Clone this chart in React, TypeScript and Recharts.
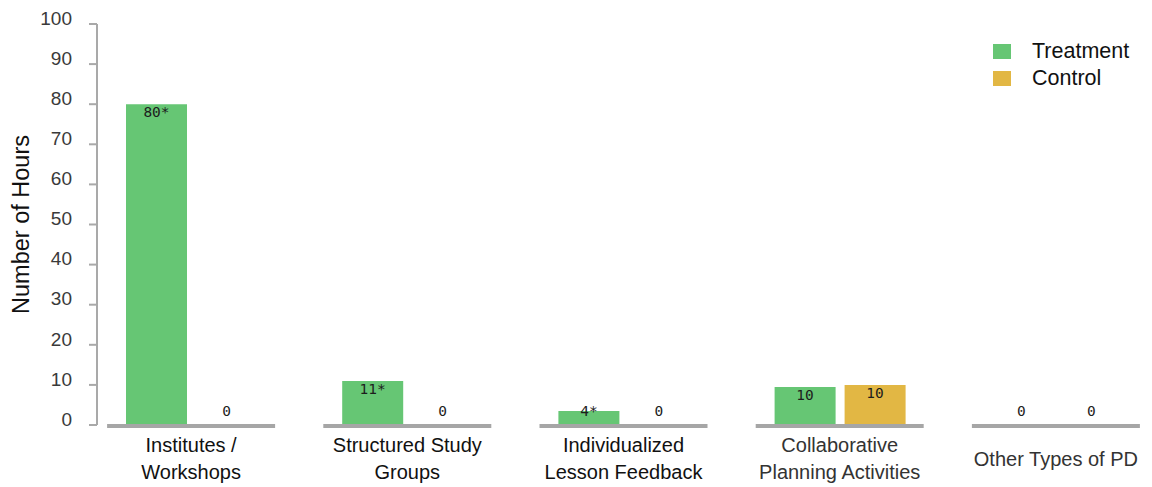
import React from 'react'
import { BarChart, Bar, XAxis, YAxis, LabelList } from 'recharts'

const categories = [
	'Institutes /\nWorkshops',
	'Structured Study\nGroups',
	'Individualized\nLesson Feedback',
	'Collaborative\nPlanning Activities',
	'Other Types of PD',
]
const treatment = [80, 11, 3.5, 9.5, 0]
const control = [0, 0, 0, 10, 0]
const treatmentLabels = ['80*', '11*', '4*', '10', '0']
const controlLabels = ['0', '0', '0', '10', '0']
const yTicks = [0, 10, 20, 30, 40, 50, 60, 70, 80, 90, 100]

const series = [
	{ key: 'treatment', name: 'Treatment', color: '#66c674' },
	{ key: 'control', name: 'Control', color: '#e2b744' },
]

const data = categories.map((name, i) => ({
	name,
	treatment: treatment[i],
	control: control[i],
	treatmentLabel: treatmentLabels[i],
	controlLabel: controlLabels[i],
}))

const FONT = '"Liberation Sans", Arial, sans-serif'

const CategoryTick = (props: any) => {
	const { x, y, payload, index } = props
	const lines = String(payload.value).split('\n')
	const light = index >= 3
	return (
		<g>
			<line x1={x - 84} x2={x + 84} y1={y + 1} y2={y + 1} stroke={'#a6a6a6'} strokeWidth={4} />
			{lines.map((l, i) => (
				<text
					key={i}
					x={x}
					y={lines.length === 1 ? y + 41 : y + 27 + i * 27}
					textAnchor={'middle'}
					fontSize={20}
					fontFamily={FONT}
					fill={light ? '#333' : '#111'}
				>
					{l}
				</text>
			))}
		</g>
	)
}

const ValueLabel = (props: any) => {
	const { x, y, width, height, value } = props
	const ty = Math.min(y + 13, y + height - 9)
	return (
		<text
			x={x + width / 2}
			y={ty}
			textAnchor={'middle'}
			fontSize={14.5}
			fontFamily={'"DejaVu Sans Mono", monospace'}
			fill={'#1d1d1d'}
		>
			{value}
		</text>
	)
}

export default function App() {
	return (
		<div style={{ position: 'absolute', left: 0, top: 0, width: 1152, height: 487, background: '#fff', fontFamily: FONT }}>
			<BarChart
				width={1152}
				height={487}
				data={data}
				margin={{ top: 24, right: 2, bottom: 0, left: 0 }}
				barSize={61}
				barGap={9}
			>
				<XAxis
					dataKey={'name'}
					height={62}
					axisLine={false}
					tickLine={false}
					tickSize={0}
					tickMargin={0}
					interval={0}
					padding={{ left: -14, right: -14 }}
					tick={<CategoryTick />}
				/>
				<YAxis
					width={97}
					domain={[0, 100]}
					ticks={yTicks}
					interval={0}
					tickSize={8}
					tickMargin={17}
					axisLine={{ stroke: '#a9a9a9', strokeWidth: 2 }}
					tickLine={{ stroke: '#a9a9a9', strokeWidth: 2 }}
					tick={{ fill: '#3a3a3a', fontSize: 19, fontFamily: FONT, dy: -6 }}
					label={{
						value: 'Number of Hours',
						angle: -90,
						position: 'insideLeft',
						offset: 21,
						style: { textAnchor: 'middle', fontSize: 23.5, fill: '#111', fontFamily: FONT },
					}}
				/>
				{series.map((s) => (
					<Bar
						key={s.key}
						dataKey={s.key}
						name={s.name}
						fill={s.color}
						minPointSize={1}
						isAnimationActive={false}
					>
						<LabelList dataKey={s.key + 'Label'} content={<ValueLabel />} />
					</Bar>
				))}
			</BarChart>
			<div style={{ position: 'absolute', left: 993, top: 38 }}>
				{series.map((s) => (
					<div key={s.key} style={{ display: 'flex', alignItems: 'center', height: 27 }}>
						<span style={{ display: 'inline-block', width: 18, height: 15, background: s.color, marginRight: 21 }} />
						<span style={{ fontSize: 21.5, color: '#111' }}>{s.name}</span>
					</div>
				))}
			</div>
		</div>
	)
}
